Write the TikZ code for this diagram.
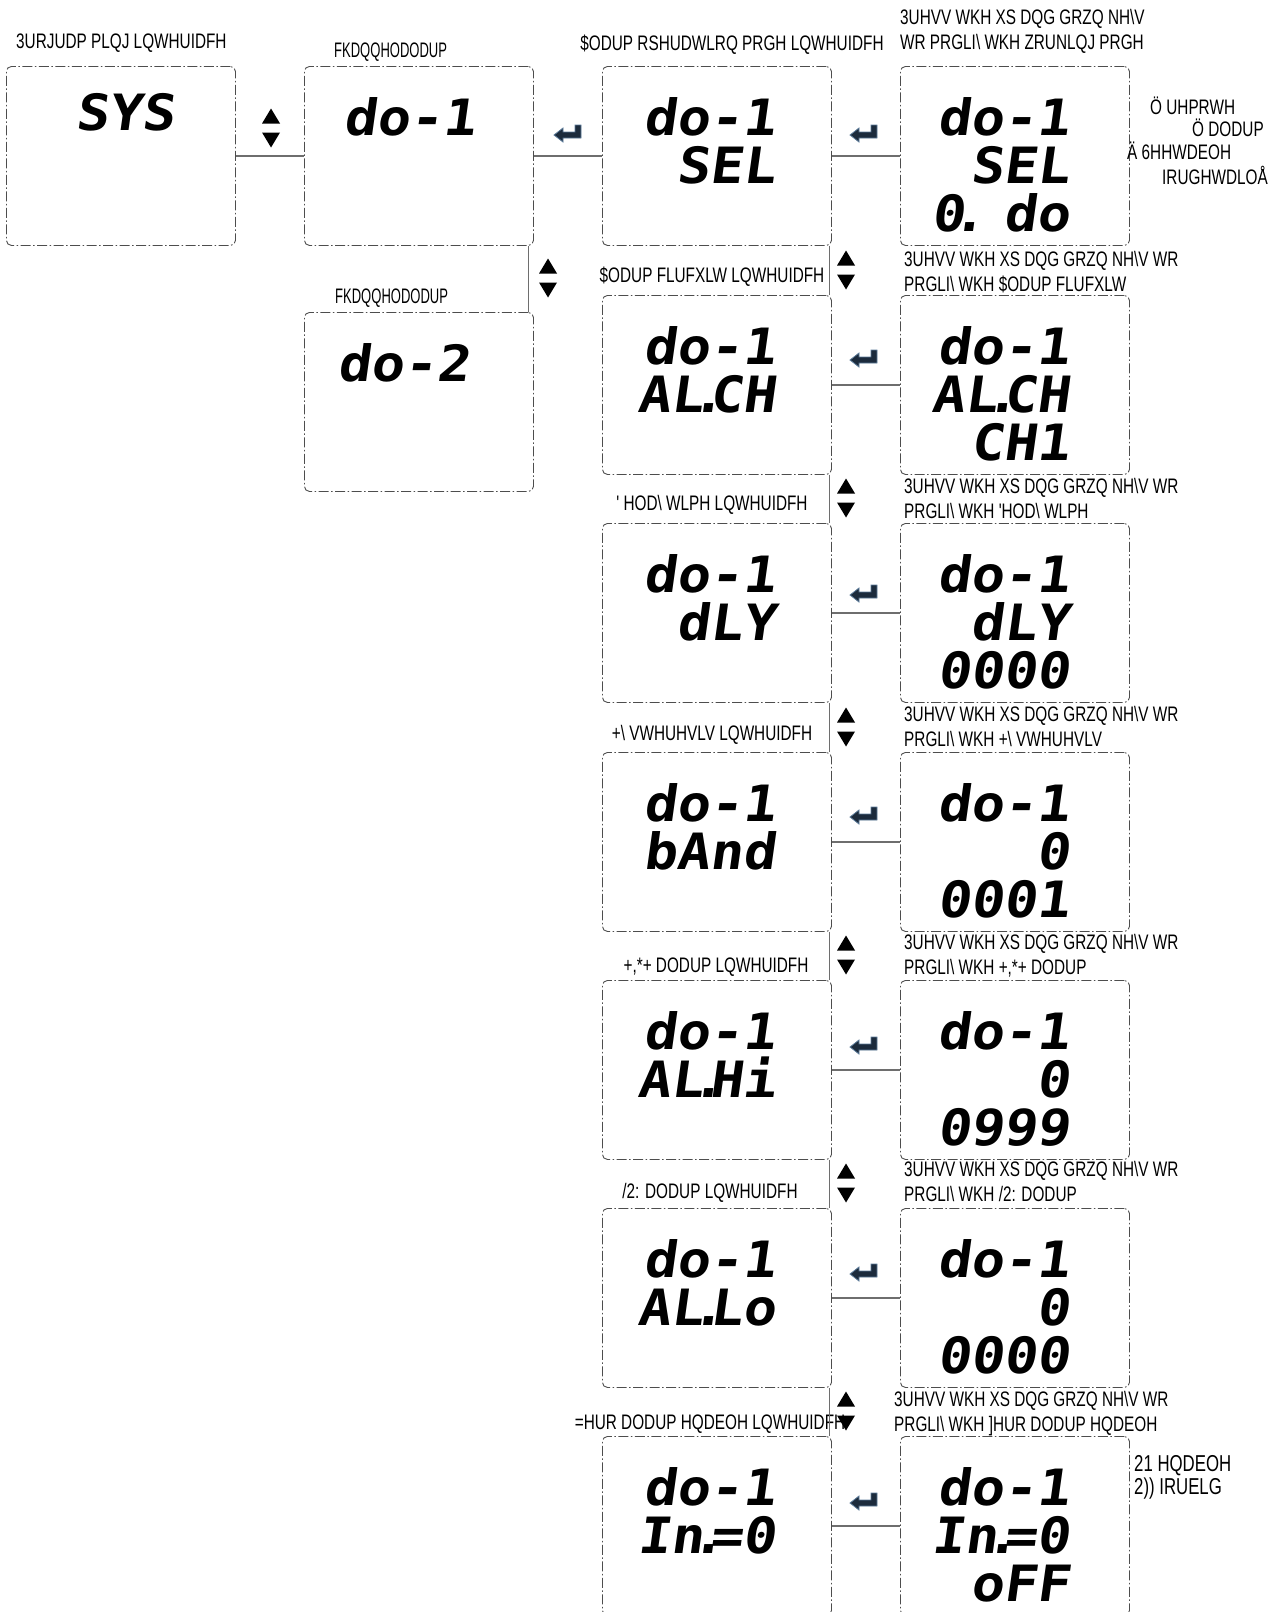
\documentclass[tikz,border=0pt]{standalone}
\usepackage{fontspec}
\newfontfamily\lab[FakeStretch=0.73]{Liberation Sans}
\newfontfamily\labn[FakeStretch=0.62]{Liberation Sans}
\newfontfamily\seg[FakeSlant=0.14,FakeStretch=1.1]{DejaVu Sans Mono}
\newcommand\segdot{\kern-.25em.\kern-.3em}
\definecolor{bord}{HTML}{4D4D4D}
\definecolor{conn}{HTML}{6E6E6E}
\definecolor{entfill}{HTML}{1C2B3C}
\definecolor{entline}{HTML}{5B7A99}
\begin{document}
\begin{tikzpicture}[x=1pt,y=-1pt,
  disp/.style={draw=bord, line width=0.9pt, dash pattern=on 10pt off 2.5pt on 1.5pt off 2.5pt,
     rounded corners=5pt, minimum width=229pt, minimum height=179pt, inner sep=0pt, anchor=north west},
  segt/.style={font=\seg\bfseries\fontsize{50}{48}\selectfont, align=right, inner sep=0pt, anchor=north east},
  lab/.style={font=\lab\fontsize{21}{25}\selectfont, inner sep=0pt},
  cn/.style={draw=conn, line width=1.1pt},
  enterkey/.pic={\filldraw[fill=entfill, draw=entline, line width=0.8pt]
     (13,-7) -- (13,6) -- (-5,6) -- (-5,10) -- (-14,3) -- (-5,-4) -- (-5,0) -- (7,0) -- (7,-7) -- cycle;},
  updown/.pic={\fill[black] (0,-19.5) -- (9,-4.5) -- (-9,-4.5) -- cycle;
     \fill[black] (0,19.5) -- (9,4.5) -- (-9,4.5) -- cycle;}
]
\useasboundingbox (0,0) rectangle (1283,1612);

% ---------- boxes ----------
\node[disp] (a1) at (6,66) {};
\node[disp] (b1) at (304,66) {};
\node[disp] (b2) at (304,312) {};
\node[disp] (c1) at (602,66) {};
\node[disp] (c2) at (602,295) {};
\node[disp] (c3) at (602,523) {};
\node[disp] (c4) at (602,752) {};
\node[disp] (c5) at (602,980) {};
\node[disp] (c6) at (602,1208) {};
\node[disp] (c7) at (602,1436) {};
\node[disp] (d1) at (900,66) {};
\node[disp] (d2) at (900,295) {};
\node[disp] (d3) at (900,523) {};
\node[disp] (d4) at (900,752) {};
\node[disp] (d5) at (900,980) {};
\node[disp] (d6) at (900,1208) {};
\node[disp] (d7) at (900,1436) {};

% ---------- display texts ----------
\node[segt] (a1t) at ([shift={(169,27)}]a1.north west) {SYS};
\node[segt] (b1t) at ([shift={(172,31)}]b1.north west) {do-1};
\node[segt] (b2t) at ([shift={(166,31)}]b2.north west) {do-2};
\node[segt] (c1t) at ([shift={(174,31)}]c1.north west) {do-1\\SEL};
\node[segt] (d1t) at ([shift={(170,31)}]d1.north west) {do-1\\SEL\\0\segdot\ do};
\node[segt] (c2t) at ([shift={(174,31)}]c2.north west) {do-1\\AL\segdot CH};
\node[segt] (d2t) at ([shift={(170,31)}]d2.north west) {do-1\\AL\segdot CH\\CH1};
\node[segt] (c3t) at ([shift={(174,31)}]c3.north west) {do-1\\dLY};
\node[segt] (d3t) at ([shift={(170,31)}]d3.north west) {do-1\\dLY\\0000};
\node[segt] (c4t) at ([shift={(174,31)}]c4.north west) {do-1\\bAnd};
\node[segt] (d4t) at ([shift={(170,31)}]d4.north west) {do-1\\0\\0001};
\node[segt] (c5t) at ([shift={(174,31)}]c5.north west) {do-1\\AL\segdot Hi};
\node[segt] (d5t) at ([shift={(170,31)}]d5.north west) {do-1\\0\\0999};
\node[segt] (c6t) at ([shift={(174,31)}]c6.north west) {do-1\\AL\segdot Lo};
\node[segt] (d6t) at ([shift={(170,31)}]d6.north west) {do-1\\0\\0000};
\node[segt] (c7t) at ([shift={(174,31)}]c7.north west) {do-1\\In\segdot=0};
\node[segt] (d7t) at ([shift={(170,31)}]d7.north west) {do-1\\In\segdot=0\\oFF};

% ---------- labels ----------
\node[lab, anchor=west] (la1) at (16,43) {3URJUDP PLQJ LQWHUIDFH};
\node[lab, font=\labn\fontsize{21}{25}\selectfont, anchor=west] (lb1) at (334,52) {FKDQQHODODUP};
\node[lab, font=\labn\fontsize{21}{25}\selectfont, anchor=west] (lb2) at (335,298) {FKDQQHODODUP};
\node[lab] (lc1) at (732,45) {\$ODUP RSHUDWLRQ PRGH LQWHUIDFH};
\node[lab] (lc2) at (712,277) {\$ODUP FLUFXLW LQWHUIDFH};
\node[lab] (lc3) at (712,505) {' HOD\textbackslash{} WLPH LQWHUIDFH};
\node[lab] (lc4) at (712,735) {+\textbackslash{} VWHUHVLV LQWHUIDFH};
\node[lab] (lc5) at (716,967) {+,*+ DODUP LQWHUIDFH};
\node[lab] (lc6) at (710,1193) {/2: DODUP LQWHUIDFH};
\node[lab] (lc7) at (710,1424) {=HUR DODUP HQDEOH LQWHUIDFH};

\node[lab, anchor=west, align=left] (ld1) at (900,31) {3UHVV WKH XS DQG GRZQ NH\textbackslash V\\WR PRGLI\textbackslash{} WKH ZRUNLQJ PRGH};
\node[lab, anchor=west, align=left] (ld2) at (904,272) {3UHVV WKH XS DQG GRZQ NH\textbackslash V WR\\PRGLI\textbackslash{} WKH \$ODUP FLUFXLW};
\node[lab, anchor=west, align=left] (ld3) at (904,498) {3UHVV WKH XS DQG GRZQ NH\textbackslash V WR\\PRGLI\textbackslash{} WKH 'HOD\textbackslash{} WLPH};
\node[lab, anchor=west, align=left] (ld4) at (904,726) {3UHVV WKH XS DQG GRZQ NH\textbackslash V WR\\PRGLI\textbackslash{} WKH +\textbackslash{} VWHUHVLV};
\node[lab, anchor=west, align=left] (ld5) at (904,956) {3UHVV WKH XS DQG GRZQ NH\textbackslash V WR\\PRGLI\textbackslash{} WKH +,*+ DODUP};
\node[lab, anchor=west, align=left] (ld6) at (904,1181) {3UHVV WKH XS DQG GRZQ NH\textbackslash V WR\\PRGLI\textbackslash{} WKH /2: DODUP};
\node[lab, anchor=west, align=left] (ld7) at (894,1414) {3UHVV WKH XS DQG GRZQ NH\textbackslash V WR\\PRGLI\textbackslash{} WKH ]HUR DODUP HQDEOH};

\node[lab, anchor=west] (n1) at (1150,106) {Ö UHPRWH};
\node[lab, anchor=west] (n2) at (1192,128) {Ö DODUP};
\node[lab, anchor=west] (n3) at (1127,151) {Ä 6HHWDEOH};
\node[lab, anchor=west] (n4) at (1162,175) {IRUGHWDLOÅ};
\node[lab, font=\lab\fontsize{23}{25}\selectfont, anchor=west] (n5) at (1134,1466) {21 HQDEOH};
\node[lab, font=\lab\fontsize{23}{25}\selectfont, anchor=west] (n6) at (1134,1489) {2)) IRUELG};

% ---------- connectors ----------
\draw[cn] (a1.east) -- (b1.west);
\draw[cn] (b1.east) -- (c1.west);
\draw[cn] (c1.east) -- (d1.west);
\draw[cn] ([xshift=-5pt]b1.south east) -- ([xshift=-5pt]b2.north east);
\foreach \i/\j in {1/2,2/3,3/4,4/5,5/6,6/7}{
  \draw[cn] ([xshift=-2pt]c\i.south east) -- ([xshift=-2pt]c\j.north east);
}
\foreach \i in {2,...,7}{
  \draw[cn] (c\i.east) -- (d\i.west);
}

% ---------- key symbols ----------
\pic at (271,128) {updown};
\pic at (548,278) {updown};
\foreach \yy in {270,498,727,955,1183,1411}{ \pic at (846,\yy) {updown}; }
\pic at (568,132) {enterkey};
\foreach \yy in {132,357,592,814,1044,1271,1500}{ \pic at (864,\yy) {enterkey}; }
\end{tikzpicture}
\end{document}
